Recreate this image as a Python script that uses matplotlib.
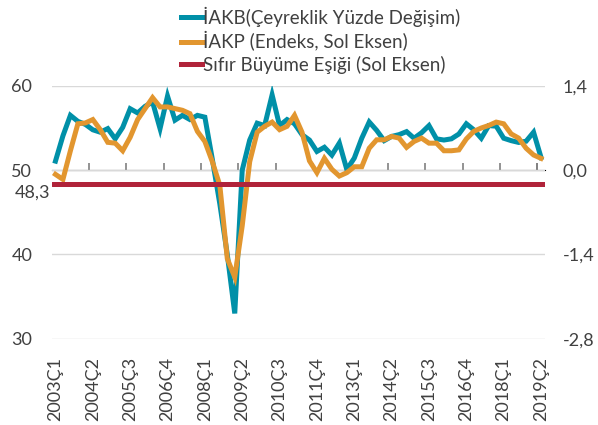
import matplotlib
matplotlib.use("Agg")
import matplotlib.pyplot as plt
import matplotlib.transforms as mtransforms

plt.rcParams['font.family'] = ['Lato', 'DejaVu Sans']

# 2003Q1 .. 2019Q2, one value per quarter
quarters = list(range(66))
tick_pos = list(range(0, 66, 5))
tick_labels = ["2003Ç1", "2004Ç2", "2005Ç3", "2006Ç4", "2008Ç1", "2009Ç2", "2010Ç3",
               "2011Ç4", "2013Ç1", "2014Ç2", "2015Ç3", "2016Ç4", "2018Ç1", "2019Ç2"]

# İAKB, quarterly % change (right axis)
iakb = [0.15, 0.57, 0.91, 0.81, 0.76, 0.67, 0.63, 0.69, 0.52, 0.71,
        1.02, 0.95, 1.06, 1.13, 0.69, 1.23, 0.83, 0.91, 0.84, 0.91,
        0.88, 0.18, -0.56, -1.40, -2.38, 0.00, 0.50, 0.78, 0.74, 1.25,
        0.74, 0.84, 0.77, 0.59, 0.50, 0.31, 0.38, 0.25, 0.45, 0.01,
        0.20, 0.53, 0.80, 0.66, 0.49, 0.56, 0.59, 0.64, 0.53, 0.62,
        0.74, 0.52, 0.50, 0.52, 0.60, 0.77, 0.67, 0.53, 0.74, 0.73,
        0.53, 0.49, 0.46, 0.48, 0.63, 0.21]

# İAKP index (left axis)
iakp = [49.5, 48.9, 52.3, 55.5, 55.6, 56.0, 54.8, 53.3, 53.2, 52.3,
        53.9, 56.0, 57.3, 58.6, 57.5, 57.5, 57.3, 57.1, 56.7, 54.6,
        53.4, 51.0, 48.2, 39.5, 37.3, 43.4, 51.0, 54.5, 55.2, 55.7,
        54.8, 55.2, 56.5, 54.5, 51.1, 49.7, 51.4, 50.1, 49.3, 49.7,
        50.4, 50.4, 52.6, 53.6, 53.6, 54.0, 53.8, 52.7, 53.4, 53.8,
        53.2, 53.2, 52.3, 52.3, 52.4, 53.7, 54.6, 55.0, 55.3, 55.7,
        55.5, 54.3, 53.8, 52.6, 51.8, 51.4]

threshold = 48.3

left_ticks = [30, 40, 50, 60]
left_labels = ["30", "40", "50", "60"]
right_ticks = [-2.8, -1.4, 0.0, 1.4]
right_labels = ["-2,8", "-1,4", "0,0", "1,4"]

TEAL = "#0090a8"
ORANGE = "#e2962f"
RED = "#b0233a"
GRID = "#d9d9d9"
TXT = "#404040"

fig = plt.figure(figsize=(5.98, 4.25), dpi=100)
ax = fig.add_axes([0.0865, 0.203, 0.8245, 0.595])
ax2 = ax.twinx()
# right axis (teal + grid) sits underneath
ax2.set_zorder(ax.get_zorder() - 1)
ax.patch.set_visible(False)
ax2.patch.set_visible(True)
ax2.patch.set_facecolor("white")

ax.set_xlim(-0.5, 65.5)
ax.set_ylim(30, 60)
ax2.set_ylim(-2.8, 1.4)

for a in (ax, ax2):
    for s in a.spines.values():
        s.set_visible(False)

ax2.set_yticks(right_ticks)
ax2.set_yticklabels(right_labels)
ax2.tick_params(axis='y', length=0, pad=13, labelsize=13, labelcolor=TXT)
ax2.set_xticks([p - 0.5 for p in tick_pos], minor=True)
ax2.grid(True, which='major', axis='y', color=GRID, lw=1)
ax2.grid(True, which='minor', axis='x', color=GRID, lw=1)

ax2.plot(quarters, iakb, color=TEAL, lw=3.6, solid_joinstyle='miter')

ax.set_yticks(left_ticks)
ax.set_yticklabels(left_labels)
ax.tick_params(axis='y', length=0, pad=14, labelsize=13, labelcolor=TXT)
ax.set_xticks(tick_pos)
ax.set_xticklabels(tick_labels, rotation=90)
ax.tick_params(axis='x', length=0, pad=13, labelsize=13, labelcolor=TXT)
ax.tick_params(axis='x', which='minor', length=0)

# category axis drawn at 50 / 0,0
sec = ax2.secondary_xaxis((0 + 2.8) / 4.2)
sec.spines['bottom'].set_color("#808080")
sec.spines['bottom'].set_linewidth(1.2)
sec.set_xticks([p - 0.5 for p in tick_pos[1:]] + [64.5])
sec.set_xticklabels([])
sec.tick_params(axis='x', direction='out', length=5, width=1.2, color="#808080")

ax.plot(quarters, iakp, color=ORANGE, lw=3.6, solid_joinstyle='miter')
ax.axhline(threshold, color=RED, lw=3.6, solid_capstyle='round')

trans = mtransforms.blended_transform_factory(ax.transAxes, ax.transData)
ax.text(-0.003, threshold, "48,3", transform=trans, ha='right', va='top',
        fontsize=13, color=TXT)

h1, = ax.plot([], [], color=TEAL, lw=3.6)
h2, = ax.plot([], [], color=ORANGE, lw=3.6)
h3, = ax.plot([], [], color=RED, lw=3.6)
fig.legend([h1, h2, h3],
           ["İAKB(Çeyreklik Yüzde Değişim)", "İAKP (Endeks, Sol Eksen)",
            "Sıfır Büyüme Eşiği (Sol Eksen)"],
           loc='upper left', bbox_to_anchor=(172 / 598, 1 + 3 / 425),
           frameon=False, fontsize=13.5, handlelength=1.1, handletextpad=0.05,
           labelspacing=0.25, borderpad=0, labelcolor=TXT)

fig.savefig("out.png", dpi=100)
